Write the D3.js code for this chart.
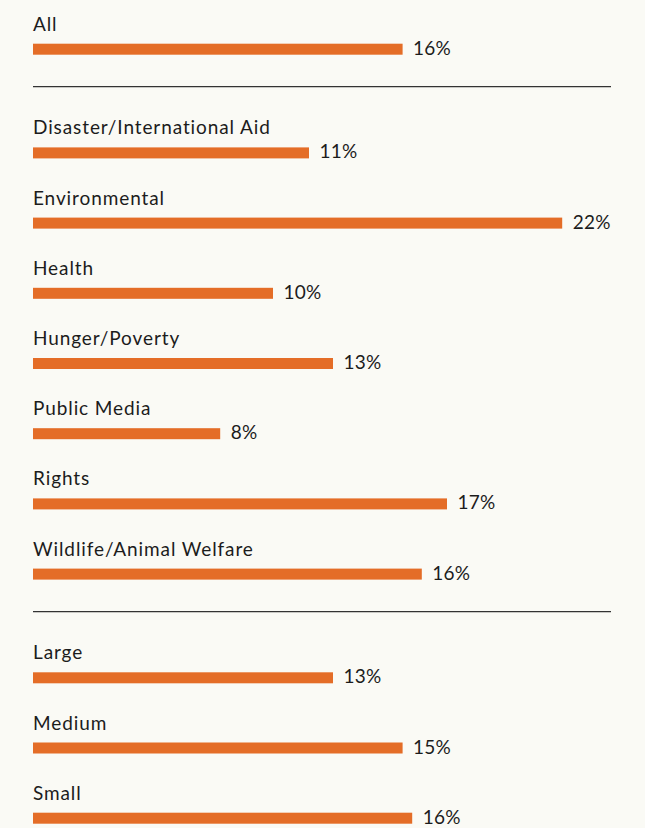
<!DOCTYPE html>
<html>
<head>
<meta charset="utf-8">
<script src="https://cdn.jsdelivr.net/npm/d3@7"></script>
<style>
  html, body { margin: 0; padding: 0; background: #fafaf5; }
  svg { display: block; }
  text { font-family: Lato, "Open Sans", sans-serif; fill: #1c1c1c; letter-spacing: 0.9px; }
  text.val { letter-spacing: 0.2px; }
</style>
</head>
<body>
<svg id="chart" width="645" height="828"></svg>
<script>
// Data
const categories = ["All", "Disaster/International Aid", "Environmental", "Health", "Hunger/Poverty",
  "Public Media", "Rights", "Wildlife/Animal Welfare", "Large", "Medium", "Small"];
const groups = [0, 1, 1, 1, 1, 1, 1, 1, 2, 2, 2];
const values = [15.4, 11.5, 22.05, 10.0, 12.5, 7.8, 17.25, 16.2, 12.5, 15.4, 15.8];
const valueLabels = ["16%", "11%", "22%", "10%", "13%", "8%", "17%", "16%", "13%", "15%", "16%"];

const svg = d3.select("#chart");
const left = 33, right = 611;
const barH = 11;
const top0 = 43.7, step = 70.2, groupGap = 33.5;

const x = d3.scaleLinear().domain([0, 22]).range([left, left + 528]);
const yTop = i => top0 + i * step + groups[i] * groupGap;

const rows = categories.map((c, i) => ({ c, v: values[i], lab: valueLabels[i], g: groups[i], i }));

const row = svg.selectAll("g.row").data(rows).join("g").attr("class", "row");

row.append("rect")
  .attr("x", x(0))
  .attr("y", d => yTop(d.i))
  .attr("width", d => x(d.v) - x(0))
  .attr("height", barH)
  .attr("fill", "#e46d27");

row.append("text")
  .attr("x", left)
  .attr("y", d => yTop(d.i) - 13)
  .attr("font-size", 19)
  .text(d => d.c);

row.append("text")
  .attr("class", "val")
  .attr("x", d => x(d.v) + 10.5)
  .attr("y", d => yTop(d.i) + barH)
  .attr("font-size", 19)
  .text(d => d.lab);

// Separator lines between groups
const seps = d3.range(1, d3.max(groups) + 1).map(g => {
  const lastIdx = d3.max(rows.filter(r => r.g === g - 1), r => r.i);
  return yTop(lastIdx) + barH + 32;
});
svg.selectAll("line.sep").data(seps).join("line")
  .attr("class", "sep")
  .attr("x1", left).attr("x2", right)
  .attr("y1", d => d).attr("y2", d => d)
  .attr("stroke", "#333")
  .attr("stroke-width", 1.2);
</script>
</body>
</html>
